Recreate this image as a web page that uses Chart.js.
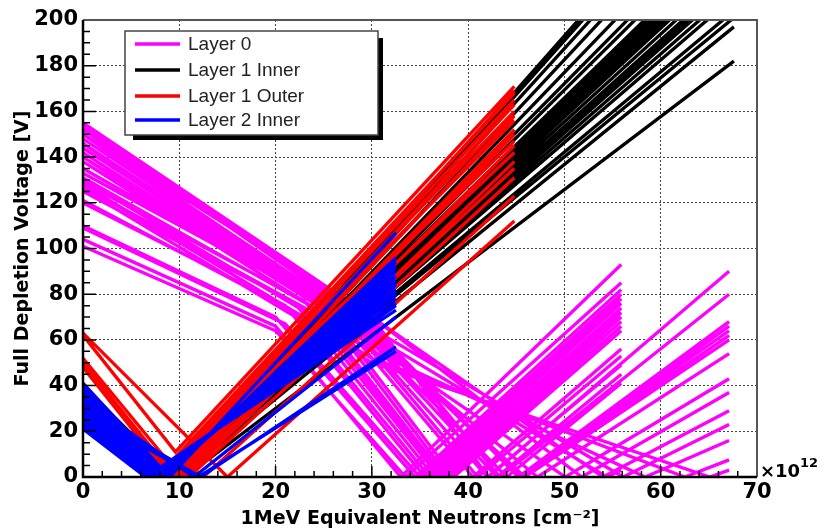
<!DOCTYPE html>
<html><head><meta charset="utf-8">
<script src="https://cdn.jsdelivr.net/npm/chart.js@4.4.1/dist/chart.umd.min.js"></script>
<style>html,body{margin:0;padding:0;background:#fff;}#wrap{width:824px;height:532px;position:relative;}</style>
</head><body><div id="wrap"><canvas id="c"></canvas></div>
<script>
// ---- labels ----
const seriesNames = ['Layer 0', 'Layer 1 Inner', 'Layer 1 Outer', 'Layer 2 Inner'];
const seriesColors = ['#ff00ff', '#000000', '#ff0000', '#0000ff'];
const xTickLabels = [0, 10, 20, 30, 40, 50, 60, 70];
const yTickLabels = [0, 20, 40, 60, 80, 100, 120, 140, 160, 180, 200];

// ---- Layer 0 (magenta): V at 0, knee fluence & V, fluence at minimum, min V, end fluence, end V ----
const layer0Start = [104,101,110,109,120,121,125,127,129,131,133,135,138,140,142,144,146,150,
                     150,152,154,148,146,144,142,140,138,153,155,150,130,128,126];
const layer0KneeX = [20,20,20,21,21,22,22,23,23,24,24,25,26,27,28,28,29,30,
                     30,30,30,30,30,30,30,30,30,30,30,30,30,30,30];
const layer0KneeV = [66,64,70,67,75,72,76,74,77,74,78,75,72,70,66,68,64,62,
                     70,68,66,64,63,62,61,60,58,70,70,65,55,52,50];
const layer0MinX  = [33.0,33.5,34.5,35.0,35.5,36.0,36.5,37.0,37.3,37.6,38.0,38.5,40.5,41.0,42.0,43.0,44.0,54.4,
                     42.1,43.3,45.2,45.3,45.4,45.7,45.9,47.2,50.1,51.8,54.0,56.1,58.4,62.5,65.1];
const layer0Min   = [0,0,0,0,0,0,0,0,0,0,0,0,0,0,0,0,0,0, 0,0,0,0,0,0,0,0,0,0,0,0,0,0,0];
const layer0EndX  = [55.9,55.9,55.9,55.9,55.9,55.9,55.9,55.9,55.9,55.9,55.9,55.9,55.9,55.9,55.9,55.9,55.9,55.9,
                     67.1,67.1,67.1,67.1,67.1,67.1,67.1,67.1,67.1,67.1,67.1,67.1,67.1,67.1,67.1];
const layer0End   = [93,85,82,80,78,76,74,72,70,68,66,64,56,53,49,45,41,3,
                     90,80,68,66,64,62,60,54,43,37,29,23,16,7.5,3];

// ---- Layer 1 Inner (black) ----
const layer1InnerStart = [40,39,38,38,37,36,35,34,34,33,33,32,31,30,30,29,28,27,26,25,24,23,22,21];
const layer1InnerMinX  = [9.5,9.5,9.5,9.5,9.5,9.5,9.5,9.5,9.5,9.5,9.5,9.5,9.5,9.5,9.5,9.5,9.5,9.5,9.5,9.5,9.5,9.5,10.0,10.6];
const layer1InnerMin   = [0,0,0,0,0,0,0,0,0,0,0,0,0,0,0,0,0,0,0,0,0,0,0,0];
const layer1InnerEndX  = [67.6,67.6,67.6,67.6,67.6,67.6,67.6,67.6,67.6,67.6,67.6,67.6,67.6,67.6,67.6,67.6,67.6,67.6,67.6,67.6,67.6,67.6,67.6,67.6];
const layer1InnerEnd   = [277,274,269,262,254,247,243,238,236,234,232,230,228,226,223,220,218,216,213,210,204,201,197,182];

// ---- Layer 1 Outer (red) ----
const layer1OuterStart = [63,62,52,50,49,48,41,36,33,30,28,38,37,35,34,32,31,29];
const layer1OuterMinX  = [15.0,9.6,9.0,8.8,8.6,8.5,8.5,9.0,10.0,11.0,12.5,8.7,8.9,9.2,9.4,9.8,10.2,10.6];
const layer1OuterMin   = [0,11,6,4,3,3,2,1,0,0,0,1,1,0,0,0,0,0];
const layer1OuterEndX  = [44.8,44.8,44.8,44.8,44.8,44.8,44.8,44.8,44.8,44.8,44.8,44.8,44.8,44.8,44.8,44.8,44.8,44.8];
const layer1OuterEnd   = [112,171,168,165,160,156,147,142,135,131,123,169,163,158,152,150,145,138];

// ---- Layer 2 Inner (blue) ----
const layer2InnerStart = [41,40,39,38,37,36,35,34,33,31,30,28,26,24,22,21,34,30,28];
const layer2InnerMinX  = [9.0,8.6,8.5,8.4,8.3,8.1,8.0,7.9,7.8,7.6,7.5,7.3,7.0,6.8,6.6,6.5,11.5,12.2,12.0];
const layer2InnerMin   = [0,0,0,0,0,0,0,0,0,0,0,0,0,0,0,0,0,0,0];
const layer2InnerEndX  = [32.5,32.5,32.5,32.5,32.5,32.5,32.5,32.5,32.5,32.5,32.5,32.5,32.5,32.5,32.5,32.5,32.5,32.5,32.5];
const layer2InnerEnd   = [107,96,94,92,90,88,86,85,84,82,81,80,78,76,75,73,70,57,55];

// columns: list of [xArray, yArray] vertex pairs; x null => fluence 0
function buildLines(vertices) {
  const pts = [];
  const n = vertices[0][1].length;
  for (let i = 0; i < n; i++) {
    let lastX = 0;
    vertices.forEach(([xs, ys]) => {
      lastX = xs ? xs[i] : 0;
      pts.push({x: lastX, y: ys[i]});
    });
    pts.push({x: lastX, y: null});
  }
  return pts;
}

const layerData = [
  buildLines([[null, layer0Start], [layer0KneeX, layer0KneeV], [layer0MinX, layer0Min], [layer0EndX, layer0End]]),
  buildLines([[null, layer1InnerStart], [layer1InnerMinX, layer1InnerMin], [layer1InnerEndX, layer1InnerEnd]]),
  buildLines([[null, layer1OuterStart], [layer1OuterMinX, layer1OuterMin], [layer1OuterEndX, layer1OuterEnd]]),
  buildLines([[null, layer2InnerStart], [layer2InnerMinX, layer2InnerMin], [layer2InnerEndX, layer2InnerEnd]])
];

// datasets listed top-most first (Chart.js draws index 0 last)
const drawOrder = [3, 2, 1, 0];
const datasets = drawOrder.map(i => ({
  label: seriesNames[i],
  data: layerData[i],
  borderColor: seriesColors[i],
  backgroundColor: seriesColors[i],
  borderWidth: 3.3,
  pointRadius: 0,
  tension: 0,
  spanGaps: false,
  fill: false,
  clip: 0,
  borderCapStyle: 'butt',
  borderJoinStyle: 'miter'
}));

const AXIS_FONT = '"DejaVu Sans", "Liberation Sans", sans-serif';

const frameAndTicks = {
  id: 'frameAndTicks',
  afterDatasetsDraw(chart) {
    const {ctx, chartArea: a, scales: {x, y}} = chart;
    ctx.save();
    ctx.strokeStyle = '#000';
    ctx.lineWidth = 1.5;
    ctx.beginPath();
    for (let v = 0; v <= 200; v += 5) {
      const py = y.getPixelForValue(v);
      const len = v % 20 === 0 ? 13 : 7;
      ctx.moveTo(a.left, py); ctx.lineTo(a.left + len, py);
    }
    for (let v = 0; v <= 70; v += 2) {
      const px = x.getPixelForValue(v);
      const len = v % 10 === 0 ? 11 : 6;
      ctx.moveTo(px, a.bottom); ctx.lineTo(px, a.bottom - len);
    }
    ctx.stroke();
    ctx.lineWidth = 2;
    ctx.strokeStyle = '#555';
    ctx.beginPath();
    ctx.moveTo(a.left, a.top); ctx.lineTo(a.right, a.top); ctx.lineTo(a.right, a.bottom);
    ctx.stroke();
    ctx.lineWidth = 2.5;
    ctx.strokeStyle = '#000';
    ctx.beginPath();
    ctx.moveTo(a.left, a.top); ctx.lineTo(a.left, a.bottom); ctx.lineTo(a.right, a.bottom);
    ctx.stroke();
    // exponent label
    ctx.fillStyle = '#000';
    ctx.textBaseline = 'alphabetic';
    ctx.font = 'bold 18px ' + AXIS_FONT;
    ctx.fillText('\u00d710', a.right + 3, a.bottom);
    ctx.font = 'bold 13px ' + AXIS_FONT;
    ctx.fillText('12', a.right + 43, a.bottom - 10);
    ctx.restore();
  }
};

const legendBox = {
  id: 'legendBox',
  afterDraw(chart) {
    const ctx = chart.ctx;
    const L = 125, T = 31, R = 378, B = 135;
    ctx.save();
    ctx.fillStyle = '#000';
    ctx.fillRect(L + 8, B, R - L - 3, 5);
    ctx.fillRect(R, T + 7, 5, B - T - 2);
    ctx.fillStyle = '#fff';
    ctx.fillRect(L, T, R - L, B - T);
    ctx.strokeStyle = '#444';
    ctx.lineWidth = 1.5;
    ctx.strokeRect(L, T, R - L, B - T);
    const rows = [44, 70, 96, 120];
    ctx.font = '19px "Liberation Sans", Arial, sans-serif';
    ctx.textBaseline = 'middle';
    seriesNames.forEach((name, i) => {
      ctx.strokeStyle = seriesColors[i];
      ctx.lineWidth = 3.5;
      ctx.beginPath(); ctx.moveTo(135, rows[i]); ctx.lineTo(180, rows[i]); ctx.stroke();
      ctx.fillStyle = '#222';
      ctx.fillText(name, 188, rows[i] + 1);
    });
    ctx.restore();
  }
};

new Chart(document.getElementById('c'), {
  type: 'line',
  data: { datasets },
  plugins: [frameAndTicks, legendBox],
  options: {
    responsive: true,
    maintainAspectRatio: false,
    animation: false,
    events: [],
    layout: { padding: { left: 0, right: 67, top: 20, bottom: 0 } },
    plugins: { legend: { display: false }, tooltip: { enabled: false } },
    scales: {
      x: {
        type: 'linear', min: 0, max: 70,
        afterFit: s => { s.height = 55; },
        afterBuildTicks: s => { s.ticks = xTickLabels.map(v => ({value: v})); },
        ticks: { padding: 3, color: '#000', font: { family: AXIS_FONT, weight: 'bold', size: 21 }, maxRotation: 0 },
        grid: { color: '#444', lineWidth: 1, drawTicks: false },
        border: { display: false, dash: [2, 2] },
        title: { display: true, text: '1MeV Equivalent Neutrons [cm\u207b\u00b2]', color: '#000',
                 font: { family: AXIS_FONT, weight: 'bold', size: 19 }, padding: { top: 0, bottom: 2 } }
      },
      y: {
        type: 'linear', min: 0, max: 200,
        afterFit: s => { s.width = 83; },
        afterBuildTicks: s => { s.ticks = yTickLabels.map(v => ({value: v})); },
        ticks: { padding: 5, color: '#000', font: { family: AXIS_FONT, weight: 'bold', size: 21 } },
        grid: { color: '#444', lineWidth: 1, drawTicks: false },
        border: { display: false, dash: [2, 2] },
        title: { display: true, text: 'Full Depletion Voltage [V]', color: '#000',
                 font: { family: AXIS_FONT, weight: 'bold', size: 19 }, padding: { top: 12, bottom: 0 } }
      }
    }
  }
});
</script></body></html>
